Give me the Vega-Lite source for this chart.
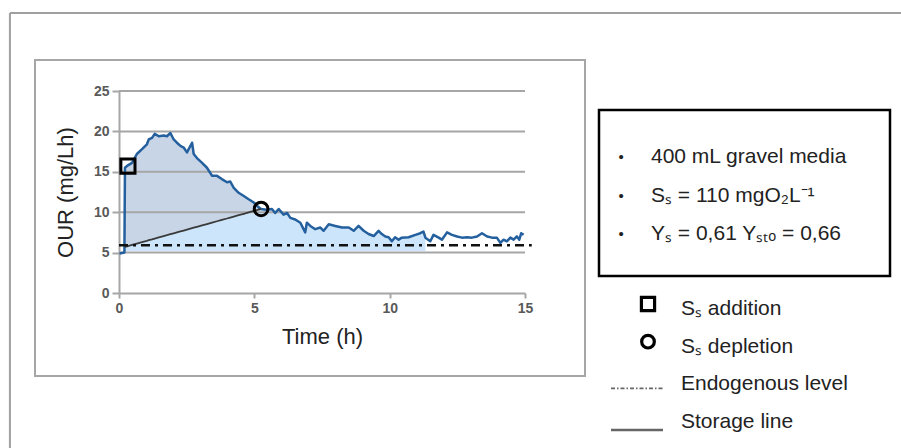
{
  "$schema": "https://vega.github.io/schema/vega-lite/v6.json",
  "padding": {"left": 7, "top": 11, "right": 0, "bottom": 0},
  "background": "white",
  "bounds": "flush",
  "config": {
    "font": "Liberation Sans",
    "view": {"stroke": null},
    "axis": {
      "grid": false, "domainColor": "#a6a6a6", "domainWidth": 2, "tickColor": "#a6a6a6", "tickWidth": 2,
      "labelFont": "Liberation Sans", "labelFontWeight": "bold", "labelFontSize": 14, "labelColor": "#595959",
      "labelFlush": false, "labelOverlap": false,
      "titleFont": "Liberation Sans", "titleFontSize": 22, "titleFontWeight": "normal", "titleColor": "#222222"
    }
  },
  "datasets": {
    "curve": [
      {"t": 0.02, "v": 4.9}, {"t": 0.2, "v": 5.0}, {"t": 0.22, "v": 15.5, "s": 5.71},
      {"t": 0.33, "v": 15.8, "s": 5.81}, {"t": 0.48, "v": 16.1, "s": 5.95}, {"t": 0.66, "v": 17.2, "s": 6.12},
      {"t": 0.85, "v": 17.8, "s": 6.3}, {"t": 1.03, "v": 18.4, "s": 6.46}, {"t": 1.1, "v": 19.0, "s": 6.53},
      {"t": 1.22, "v": 19.2, "s": 6.64}, {"t": 1.32, "v": 19.7, "s": 6.74}, {"t": 1.47, "v": 19.4, "s": 6.87},
      {"t": 1.65, "v": 19.5, "s": 7.04}, {"t": 1.77, "v": 19.4, "s": 7.15}, {"t": 1.9, "v": 19.8, "s": 7.28},
      {"t": 2.02, "v": 19.0, "s": 7.39}, {"t": 2.14, "v": 18.6, "s": 7.5}, {"t": 2.27, "v": 18.2, "s": 7.62},
      {"t": 2.39, "v": 18.0, "s": 7.73}, {"t": 2.51, "v": 17.4, "s": 7.84}, {"t": 2.7, "v": 18.6, "s": 8.02},
      {"t": 2.76, "v": 17.2, "s": 8.08}, {"t": 2.88, "v": 16.7, "s": 8.19}, {"t": 3.07, "v": 16.1, "s": 8.37},
      {"t": 3.25, "v": 15.5, "s": 8.53}, {"t": 3.44, "v": 14.5, "s": 8.71}, {"t": 3.62, "v": 14.5, "s": 8.88},
      {"t": 3.8, "v": 14.1, "s": 9.05}, {"t": 3.99, "v": 13.7, "s": 9.22}, {"t": 4.11, "v": 13.8, "s": 9.34},
      {"t": 4.24, "v": 13.0, "s": 9.46}, {"t": 4.42, "v": 12.4, "s": 9.63}, {"t": 4.61, "v": 12.0, "s": 9.8},
      {"t": 4.79, "v": 11.6, "s": 9.97}, {"t": 4.98, "v": 11.2, "s": 10.15}, {"t": 5.16, "v": 10.6, "s": 10.32},
      {"t": 5.25, "v": 10.4, "s": 10.4}, {"t": 5.45, "v": 10.3}, {"t": 5.65, "v": 10.4}, {"t": 5.77, "v": 9.9},
      {"t": 5.9, "v": 10.4}, {"t": 6.08, "v": 9.7}, {"t": 6.21, "v": 9.9}, {"t": 6.33, "v": 9.3},
      {"t": 6.51, "v": 9.1}, {"t": 6.7, "v": 8.7}, {"t": 6.88, "v": 7.5}, {"t": 6.94, "v": 8.7},
      {"t": 7.07, "v": 8.3}, {"t": 7.25, "v": 7.9}, {"t": 7.44, "v": 8.1}, {"t": 7.56, "v": 7.7},
      {"t": 7.75, "v": 8.5}, {"t": 7.99, "v": 8.3}, {"t": 8.24, "v": 8.1}, {"t": 8.49, "v": 8.1},
      {"t": 8.67, "v": 7.7}, {"t": 8.85, "v": 8.3}, {"t": 9.04, "v": 7.7}, {"t": 9.22, "v": 7.3},
      {"t": 9.41, "v": 7.05}, {"t": 9.59, "v": 7.7}, {"t": 9.71, "v": 7.3}, {"t": 9.84, "v": 7.0},
      {"t": 9.96, "v": 6.9}, {"t": 10.08, "v": 6.4}, {"t": 10.2, "v": 6.9}, {"t": 10.33, "v": 6.6},
      {"t": 10.45, "v": 6.85}, {"t": 10.7, "v": 6.9}, {"t": 10.95, "v": 7.2}, {"t": 11.13, "v": 7.4},
      {"t": 11.25, "v": 7.6}, {"t": 11.32, "v": 6.85}, {"t": 11.5, "v": 6.4}, {"t": 11.62, "v": 7.2},
      {"t": 11.81, "v": 6.85}, {"t": 11.93, "v": 6.6}, {"t": 12.12, "v": 7.5}, {"t": 12.3, "v": 7.2},
      {"t": 12.49, "v": 7.0}, {"t": 12.67, "v": 6.85}, {"t": 12.86, "v": 6.9}, {"t": 13.04, "v": 6.85},
      {"t": 13.23, "v": 7.0}, {"t": 13.41, "v": 7.4}, {"t": 13.6, "v": 7.0}, {"t": 13.78, "v": 6.85},
      {"t": 13.96, "v": 6.85}, {"t": 14.09, "v": 6.2}, {"t": 14.21, "v": 6.6}, {"t": 14.33, "v": 6.4},
      {"t": 14.46, "v": 6.85}, {"t": 14.58, "v": 6.6}, {"t": 14.7, "v": 7.0}, {"t": 14.79, "v": 6.6},
      {"t": 14.86, "v": 7.4}, {"t": 14.95, "v": 7.2}
    ],
    "markers": [
      {"t": 0.33, "v": 15.7, "kind": "Ss addition"},
      {"t": 5.25, "v": 10.4, "kind": "Ss depletion"}
    ],
    "grid": [{"g": 5}, {"g": 10}, {"g": 15}, {"g": 20}, {"g": 25}],
    "box": [
      {"row": 1, "txt": "400 mL gravel media"},
      {"row": 2, "txt": "Sₛ = 110 mgO₂L⁻¹"},
      {"row": 3, "txt": "Yₛ = 0,61 Yₛₜₒ  = 0,66"}
    ],
    "legend": [
      {"k": "add", "lab": "Sₛ addition", "shape": "square"},
      {"k": "dep", "lab": "Sₛ depletion", "shape": "circle"},
      {"k": "endo", "lab": "Endogenous level"},
      {"k": "stor", "lab": "Storage line"}
    ]
  },
  "hconcat": [
    {
      "width": 550,
      "height": 316,
      "view": {"stroke": "#a6a6a6", "strokeWidth": 2},
      "layer": [
        {
          "data": {"name": "curve"},
          "transform": [{"filter": "datum.t >= 0.2 && datum.t <= 11.45"}],
          "mark": {"type": "area", "color": "#cde5fa"},
          "encoding": {
            "x": {"field": "t", "type": "quantitative", "title": "Time (h)",
              "scale": {"domain": [0, 15], "range": [84, 490], "nice": false, "zero": false},
              "axis": {"offset": -83, "values": [0, 5, 10, 15], "tickSize": 5, "labelPadding": 3, "titlePadding": 11,
                "labelFontSize": 14, "labelFontWeight": "bold", "labelColor": "#595959", "labelFont": "Liberation Sans"}},
            "y": {"field": "v", "type": "quantitative", "title": "OUR (mg/Lh)",
              "scale": {"domain": [0, 25], "range": [233, 31], "nice": false, "zero": false},
              "axis": {"offset": -84, "values": [0, 5, 10, 15, 20, 25], "tickSize": 7, "labelPadding": 3, "titlePadding": 16,
                "labelFontSize": 14, "labelFontWeight": "bold", "labelColor": "#595959", "labelFont": "Liberation Sans"}},
            "y2": {"datum": 5.2}
          }
        },
        {
          "data": {"name": "curve"},
          "transform": [{"filter": "isValid(datum.s)"}],
          "mark": {"type": "area", "color": "#c7d5e7"},
          "encoding": {
            "x": {"field": "t", "type": "quantitative", "title": "Time (h)"},
            "y": {"field": "v", "type": "quantitative", "title": "OUR (mg/Lh)"},
            "y2": {"field": "s"}
          }
        },
        {
          "data": {"name": "grid"},
          "mark": {"type": "rule", "color": "#a6a6a6", "strokeWidth": 2},
          "encoding": {
            "x": {"datum": 0},
            "x2": {"datum": 15},
            "y": {"field": "g", "type": "quantitative", "title": "OUR (mg/Lh)"}
          }
        },
        {
          "data": {"name": "curve"},
          "mark": {"type": "line", "color": "#25609e", "strokeWidth": 2.5, "strokeJoin": "round"},
          "encoding": {
            "x": {"field": "t", "type": "quantitative", "title": "Time (h)"},
            "y": {"field": "v", "type": "quantitative", "title": "OUR (mg/Lh)"}
          }
        },
        {
          "data": {"name": "curve"},
          "transform": [{"filter": "isValid(datum.s)"}],
          "mark": {"type": "line", "color": "#3a3a3a", "strokeWidth": 1.8},
          "encoding": {
            "x": {"field": "t", "type": "quantitative", "title": "Time (h)"},
            "y": {"field": "s", "type": "quantitative", "title": "OUR (mg/Lh)"}
          }
        },
        {
          "data": {"values": [{"level": 5.9}]},
          "mark": {"type": "rule", "color": "#111111", "strokeWidth": 2.5, "strokeDash": [9, 5, 3, 5]},
          "encoding": {
            "x": {"datum": 0},
            "x2": {"datum": 15.25},
            "y": {"field": "level", "type": "quantitative", "title": "OUR (mg/Lh)"}
          }
        },
        {
          "data": {"name": "markers"},
          "mark": {"type": "point", "filled": false, "stroke": "#000000", "strokeWidth": 3, "opacity": 1},
          "encoding": {
            "x": {"field": "t", "type": "quantitative", "title": "Time (h)"},
            "y": {"field": "v", "type": "quantitative", "title": "OUR (mg/Lh)"},
            "shape": {"field": "kind", "type": "nominal", "scale": {"domain": ["Ss addition", "Ss depletion"], "range": ["square", "circle"]}, "legend": null},
            "size": {"field": "kind", "type": "nominal", "scale": {"domain": ["Ss addition", "Ss depletion"], "range": [200, 160]}, "legend": null}
          }
        },
        {
          "data": {"values": [{"edge": "left"}]},
          "mark": {"type": "rule", "color": "#a0a0a0", "strokeWidth": 2},
          "encoding": {
            "x": {"datum": -4.03},
            "y": {"datum": -20},
            "y2": {"datum": 34.65}
          }
        },
        {
          "data": {"values": [{"edge": "top"}]},
          "mark": {"type": "rule", "color": "#a0a0a0", "strokeWidth": 2},
          "encoding": {
            "x": {"datum": -4.03},
            "x2": {"datum": 29.5},
            "y": {"datum": 34.65}
          }
        }
      ]
    },
    {
      "vconcat": [
        {
          "width": 291,
          "height": 38,
          "data": {"values": [{}]},
          "mark": {"type": "point", "opacity": 0}
        },
        {
          "width": 291,
          "height": 166,
          "view": {"stroke": "#000000", "strokeWidth": 2.5},
          "data": {"name": "box"},
          "layer": [
            {
              "mark": {"type": "text", "text": "•", "fontSize": 15, "color": "#222222", "baseline": "middle"},
              "encoding": {
                "x": {"datum": "b", "type": "nominal", "scale": {"domain": ["b", "t"], "range": [22, 52], "padding": 0}, "axis": null},
                "y": {"field": "row", "type": "ordinal", "scale": {"range": [47, 124], "padding": 0}, "axis": null}
              }
            },
            {
              "mark": {"type": "text", "align": "left", "baseline": "middle", "fontSize": 21, "color": "#222222"},
              "encoding": {
                "x": {"datum": "t", "type": "nominal"},
                "y": {"field": "row", "type": "ordinal"},
                "text": {"field": "txt"}
              }
            }
          ]
        },
        {
          "width": 291,
          "height": 155,
          "data": {"name": "legend"},
          "layer": [
            {
              "mark": {"type": "text", "align": "left", "baseline": "middle", "fontSize": 21, "color": "#222222"},
              "encoding": {
                "x": {"datum": "lab", "type": "nominal", "scale": {"domain": ["sym", "lab"], "range": [44, 82], "padding": 0}, "axis": null},
                "y": {"field": "k", "type": "ordinal", "scale": {"domain": ["add", "dep", "endo", "stor"], "range": [21, 134], "padding": 0}, "axis": null},
                "text": {"field": "lab"}
              }
            },
            {
              "transform": [{"filter": "isValid(datum.shape)"}],
              "mark": {"type": "point", "filled": false, "stroke": "#000000", "strokeWidth": 3.2, "opacity": 1, "xOffset": 5, "yOffset": -5},
              "encoding": {
                "x": {"datum": "sym", "type": "nominal"},
                "y": {"field": "k", "type": "ordinal"},
                "shape": {"field": "shape", "type": "nominal", "scale": null},
                "size": {"field": "k", "type": "nominal", "scale": {"domain": ["add", "dep"], "range": [150, 90]}, "legend": null}
              }
            },
            {
              "transform": [{"filter": "datum.k === 'endo'"}],
              "mark": {"type": "point", "shape": "stroke", "size": 2704, "filled": false, "stroke": "#666666", "strokeWidth": 1.6, "strokeDash": [4, 2, 1.5, 2], "opacity": 1, "xOffset": -6, "yOffset": 4},
              "encoding": {
                "x": {"datum": "sym", "type": "nominal"},
                "y": {"field": "k", "type": "ordinal"}
              }
            },
            {
              "transform": [{"filter": "datum.k === 'stor'"}],
              "mark": {"type": "point", "shape": "stroke", "size": 2704, "filled": false, "stroke": "#666666", "strokeWidth": 2.5, "opacity": 1, "xOffset": -6, "yOffset": 8},
              "encoding": {
                "x": {"datum": "sym", "type": "nominal"},
                "y": {"field": "k", "type": "ordinal"}
              }
            }
          ]
        }
      ],
      "spacing": 10
    }
  ],
  "spacing": 14
}
